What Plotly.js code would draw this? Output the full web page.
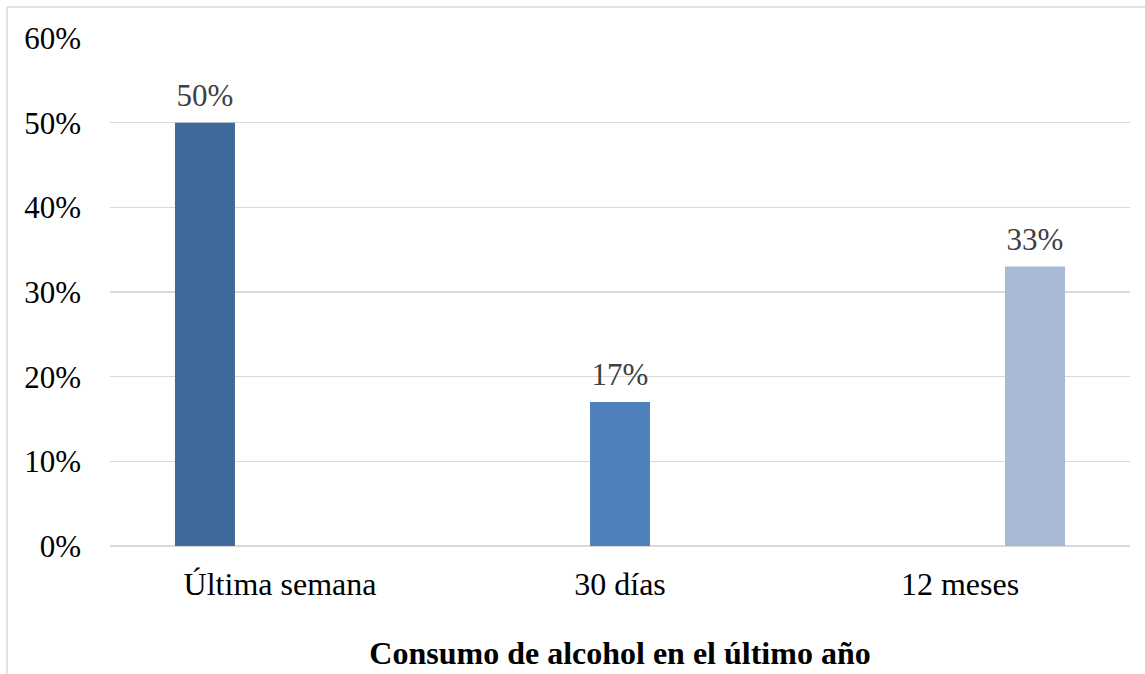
<!DOCTYPE html>
<html>
<head>
<meta charset="utf-8">
<script src="https://cdn.plot.ly/plotly-3.0.1.min.js"></script>
<style>html,body{margin:0;padding:0;background:#fff;}#chart{width:1145px;height:674px;}</style>
</head>
<body>
<div id="chart"></div>
<script>
const categories = ["Última semana", "30 días", "12 meses"];
const serieUltimaSemana = [0.50, null, null];
const serie30Dias = [null, 0.17, null];
const serie12Meses = [null, null, 0.33];
const yTickValues = [0, 0.1, 0.2, 0.3, 0.4, 0.5, 0.6];
const seriesColors = ["#3F6A9C", "#4F81BD", "#A9BAD6"];

const font = "'Liberation Serif', 'Times New Roman', serif";
function mk(vals, color) {
  return {
    type: "bar", x: categories, y: vals,
    marker: {color: color},
    texttemplate: "<span style='font-size:31px'>%{y:.0%}</span><br> ", textposition: "outside",
    constraintext: "none",
    textfont: {family: font, size: 9, color: "#404040"},
    cliponaxis: false, hoverinfo: "skip", showlegend: false
  };
}
const data = [mk(serieUltimaSemana, seriesColors[0]), mk(serie30Dias, seriesColors[1]), mk(serie12Meses, seriesColors[2])];

const layout = {
  width: 1145, height: 674,
  margin: {l: 110, r: 15, t: 38, b: 128},
  paper_bgcolor: "#fff", plot_bgcolor: "#fff",
  barmode: "group", bargap: 0.338, bargroupgap: 0.2,
  font: {family: font, size: 32, color: "#000"},
  xaxis: {
    type: "category", showgrid: false, zeroline: false,
    showline: false, ticks: "", ticklabelstandoff: 16,
    tickfont: {family: font, size: 32, color: "#000"},
    title: {text: "<b>Consumo de alcohol en el último año</b>", font: {family: font, size: 32, color: "#000"}, standoff: 40}
  },
  yaxis: {
    range: [0, 0.6], tickvals: yTickValues, tickformat: ".0%",
    showgrid: true, gridcolor: "#d9d9d9", gridwidth: 1.5,
    zeroline: true, zerolinecolor: "#d9d9d9", zerolinewidth: 1.5,
    showline: false, ticks: "", ticklabelstandoff: 28,
    tickfont: {family: font, size: 31, color: "#000"}
  },
  shapes: [
    {type: "line", xref: "paper", yref: "paper", x0: -103/1020, x1: 1020/1020 + 15/1020, y0: 1 + 31/508, y1: 1 + 31/508, line: {color: "#d9d9d9", width: 1.5}},
    {type: "line", xref: "paper", yref: "paper", x0: -103/1020, x1: -103/1020, y0: 1 + 31/508, y1: -128/508, line: {color: "#d9d9d9", width: 1.5}}
  ]
};
Plotly.newPlot("chart", data, layout, {displayModeBar: false, staticPlot: true});
</script>
</body>
</html>
